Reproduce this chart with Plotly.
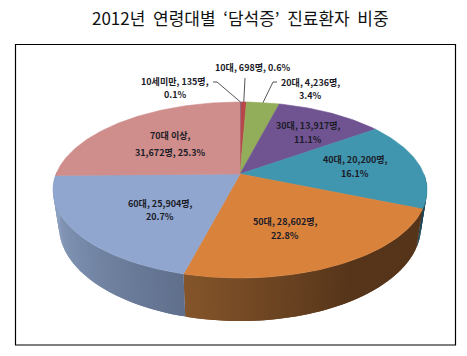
import math
import plotly.graph_objects as go

title = "2012년  연령대별  ‘담석증’  진료환자  비중"
categories = ["10세미만", "10대", "20대", "30대", "40대", "50대", "60대", "70대 이상"]
patients = [135, 698, 4236, 13917, 20200, 28602, 25904, 31672]
shares = [0.1, 0.6, 3.4, 11.1, 16.1, 22.8, 20.7, 25.3]
colors = ["#56688f", "#b8474a", "#93ae5b", "#705492", "#3f96ae", "#d9823b", "#90a6cf", "#cf8d8b"]
wall_from = [None, None, None, None, "#1d4658", "#56351a", "#5f6f8c", "#a08080"]
wall_to = [None, None, None, None, "#1d4658", "#85552a", "#93a7c9", "#a08080"]

label_lines = [
    ["10세미만, 135명,", "0.1%"], ["10대, 698명, 0.6%"], ["20대, 4,236명,", "3.4%"],
    ["30대, 13,917명,", "11.1%"], ["40대, 20,200명,", "16.1%"], ["50대, 28,602명,", "22.8%"],
    ["60대, 25,904명,", "20.7%"], ["70대 이상,", "31,672명, 25.3%"],
]
label_x = [175, 253, 310, 308, 355, 285, 160, 170]
label_y = [[81, 94.5], [67.5], [82, 95], [125, 139], [159, 173], [221, 235], [203, 216], [135, 152]]

CX, CY, A, B, K = 240, 174, 183.9, 85.1, 0.1818
DEPTH, SHRINK = 35.2, 0.968


def top(theta):
    t = math.radians(theta)
    w = 1 + K * math.cos(t)
    return CX + A * math.sin(t) / w, CY - B * math.cos(t) / w


def bottom(theta):
    t = math.radians(theta)
    w = 1 + K * math.cos(t)
    x, y = top(theta)
    return CX + (x - CX) * SHRINK, y + DEPTH / w


def mix(c1, c2, f):
    a = [int(c1[i:i + 2], 16) for i in (1, 3, 5)]
    b = [int(c2[i:i + 2], 16) for i in (1, 3, 5)]
    return "rgb(%d,%d,%d)" % tuple(round(p + (q - p) * f) for p, q in zip(a, b))


def span(a, b, step=1.0):
    n = max(2, int(abs(b - a) / step) + 1)
    return [a + (b - a) * i / (n - 1) for i in range(n)]


def poly(pts, color, width=0.6):
    return go.Scatter(
        x=[p[0] for p in pts], y=[p[1] for p in pts], mode="lines", fill="toself",
        fillcolor=color, line=dict(color=color, width=width),
        hoverinfo="skip", showlegend=False,
    )


total = sum(patients)
edges = [0.0]
for v in patients:
    edges.append(edges[-1] + v / total * 360)

fig = go.Figure()

# side walls: narrow strips, each overlapping the seam of the one before it
for i in range(len(patients)):
    a, b = max(edges[i], 90), min(edges[i + 1], 272)
    if a >= b or wall_from[i] is None:
        continue
    strips = span(a, b, 1.0)
    for s0, s1 in zip(strips[:-1], strips[1:]):
        f = min(1.0, max(0.0, ((s0 + s1) / 2 - a) / (b - a)))
        if i == 5:  # the brown wall stays dark until it nears the front
            f = max(0.0, (f - 0.45) / 0.55)
        e = min(s1 + 1.0, b)
        pts = [top(s0), top(s1), top(e), bottom(e), bottom(s1), bottom(s0), top(s0)]
        fig.add_trace(poly(pts, mix(wall_from[i], wall_to[i], f), width=0))

# top faces
for i in range(len(patients)):
    pts = [(CX, CY)] + [top(t) for t in span(edges[i], edges[i + 1])] + [(CX, CY)]
    fig.add_trace(poly(pts, colors[i]))

# leader lines
leaders = [
    [(213, 82), (217, 82), top(edges[0] + 0.2)],
    [(245, 78), top((edges[1] + edges[2]) / 2)],
    [(277, 82), (273, 82), top((edges[2] + edges[3]) / 2)],
]
for pts in leaders:
    fig.add_trace(go.Scatter(
        x=[p[0] for p in pts], y=[p[1] for p in pts], mode="lines",
        line=dict(color="#555555", width=1), hoverinfo="skip", showlegend=False,
    ))

for lines, x, ys in zip(label_lines, label_x, label_y):
    for text, y in zip(lines, ys):
        fig.add_annotation(
            x=x, y=y, xref="x", yref="y", text="<b>%s</b>" % text, showarrow=False,
            font=dict(family="Noto Sans CJK KR", size=9, color="#1c1c28"),
            align="center", xanchor="center", yanchor="middle",
        )

fig.add_annotation(
    x=240, y=17, xref="x", yref="y", text=title, showarrow=False,
    font=dict(family="Noto Sans CJK KR", size=17, color="#111111"),
    xanchor="center", yanchor="middle",
)

fig.add_shape(type="rect", x0=15.5, y0=44.5, x1=455.5, y1=345,
              line=dict(color="#000000", width=1.2), layer="above")

fig.update_layout(
    width=467, height=356, margin=dict(l=0, r=0, t=0, b=0),
    paper_bgcolor="white", plot_bgcolor="white", showlegend=False,
    xaxis=dict(range=[0, 467], visible=False, fixedrange=True),
    yaxis=dict(range=[356, 0], visible=False, fixedrange=True),
)
fig.write_html(
    "out.html", config={"displayModeBar": False},
    post_script="document.body.style.margin='0';document.documentElement.style.overflow='hidden';",
)
